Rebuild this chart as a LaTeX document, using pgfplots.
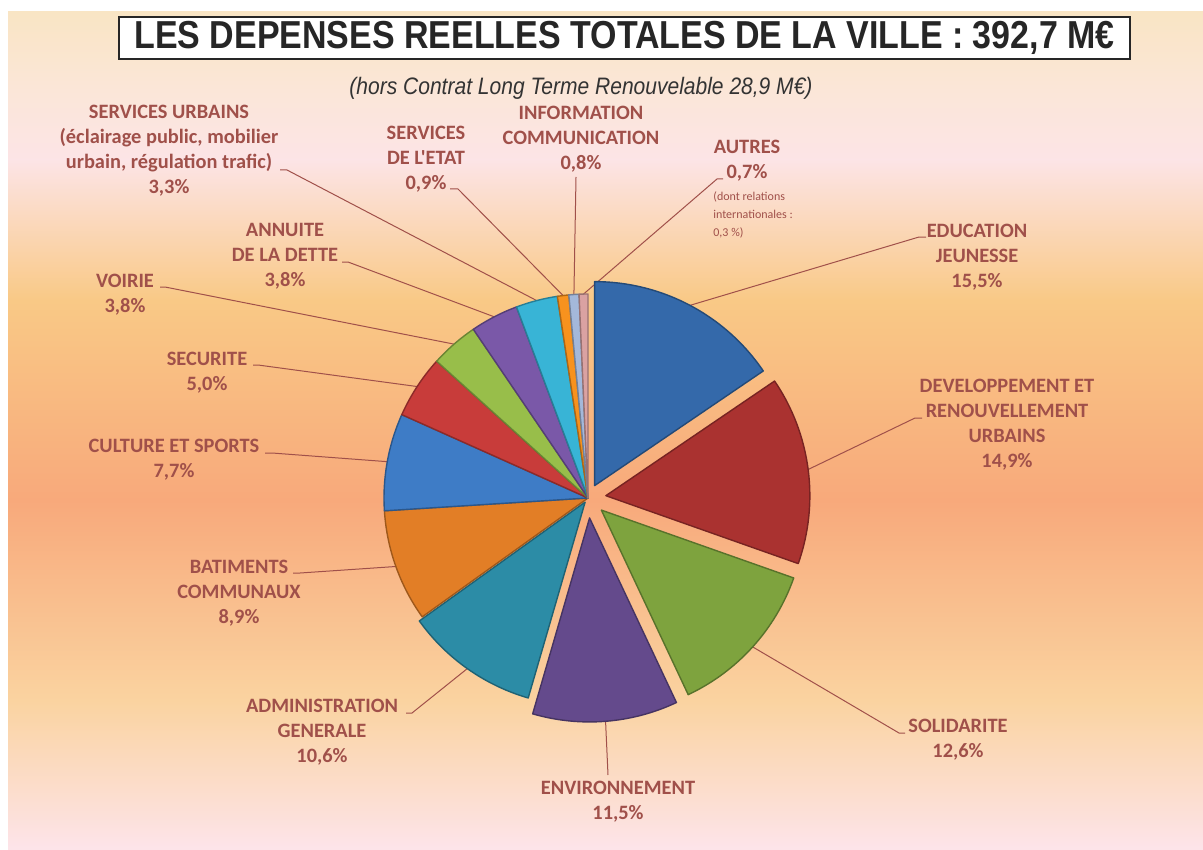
\documentclass[border=0pt]{standalone}
\usepackage{pgfplots}
\pgfplotsset{compat=1.18}
\usepackage{pgfplotstable}
\usepackage{graphicx}
\usepackage{fontspec}
\setmainfont{Carlito}
\newfontfamily\carlito{Carlito}
\newfontfamily\arialf{Liberation Sans}

\definecolor{sc0}{RGB}{52,105,170}
\definecolor{sc1}{RGB}{170,50,48}
\definecolor{sc2}{RGB}{126,163,62}
\definecolor{sc3}{RGB}{100,74,140}
\definecolor{sc4}{RGB}{44,140,166}
\definecolor{sc5}{RGB}{226,126,38}
\definecolor{sc6}{RGB}{62,124,198}
\definecolor{sc7}{RGB}{200,60,58}
\definecolor{sc8}{RGB}{152,190,74}
\definecolor{sc9}{RGB}{122,88,168}
\definecolor{sc10}{RGB}{56,180,214}
\definecolor{sc11}{RGB}{247,146,30}
\definecolor{sc12}{RGB}{164,184,218}
\definecolor{sc13}{RGB}{218,162,162}
\definecolor{labc}{RGB}{160,80,74}
\definecolor{bg0}{HTML}{F9E5C4}
\definecolor{bg1}{HTML}{FBE6D8}
\definecolor{bg2}{HTML}{FCE4E6}
\definecolor{bg3}{HTML}{F9C986}
\definecolor{bg4}{HTML}{F8A97B}
\definecolor{bg5}{HTML}{FAD3A0}
\definecolor{bg6}{HTML}{FDE4EA}

\tikzset{lab/.style={font=\carlito\bfseries\fontsize{10.2}{12.5}\selectfont, text=labc, align=center, inner sep=0pt}}

% value = share in %, off = explosion (px), lx ly = label end of leader, ex = elbow x
\pgfplotstableread{
idx value off lx ly ex
0 15.5 14 926 237 919
1 14.9 18 922 418 915
2 12.6 18 905 733 899
3 11.5 20 608 775 608
4 10.6 5 406 713 412
5 8.9 0 293 573 300
6 7.7 0 265 453 272
7 5.0 0 253 365 258
8 3.8 0 160 287 165
9 3.8 0 342 262 348
10 3.3 0 280 170 287
11 0.9 0 450 189 458
12 0.8 0 576 177 576
13 0.7 0 723 179 717
}\piedata

\begin{document}
\begin{tikzpicture}
\def\mycum{0}
\pgfplotsforeachungrouped \i in {0,...,13}{%
  \pgfplotstablegetelem{\i}{value}\of\piedata \let\myV\pgfplotsretval
  \pgfplotstablegetelem{\i}{off}\of\piedata \let\myO\pgfplotsretval
  \pgfplotstablegetelem{\i}{lx}\of\piedata \let\myLX\pgfplotsretval
  \pgfplotstablegetelem{\i}{ly}\of\piedata \let\myLY\pgfplotsretval
  \pgfplotstablegetelem{\i}{ex}\of\piedata \let\myEX\pgfplotsretval
  \pgfmathsetmacro\myA{90-3.6*\mycum}%
  \pgfmathsetmacro\myCumN{\mycum+\myV}%
  \pgfmathsetmacro\myB{90-3.6*\myCumN}%
  \pgfmathsetmacro\myM{(\myA+\myB)/2}%
  \pgfmathsetmacro\myCX{588+\myO*cos(\myM)}%
  \pgfmathsetmacro\myCY{498-\myO*sin(\myM)}%
  \pgfmathsetmacro\myPX{\myCX+204*cos(\myM)}%
  \pgfmathsetmacro\myPY{\myCY-204*sin(\myM)}%
  \expandafter\xdef\csname pA\i\endcsname{\myA}%
  \expandafter\xdef\csname pB\i\endcsname{\myB}%
  \expandafter\xdef\csname pCX\i\endcsname{\myCX}%
  \expandafter\xdef\csname pCY\i\endcsname{\myCY}%
  \expandafter\xdef\csname pPX\i\endcsname{\myPX}%
  \expandafter\xdef\csname pPY\i\endcsname{\myPY}%
  \expandafter\xdef\csname pLX\i\endcsname{\myLX}%
  \expandafter\xdef\csname pLY\i\endcsname{\myLY}%
  \expandafter\xdef\csname pEX\i\endcsname{\myEX}%
  \xdef\mycum{\myCumN}%
}
\begin{axis}[
  x=0.5pt, y=0.5pt,
  xmin=0, xmax=1203, ymin=0, ymax=850,
  y dir=reverse,
  hide axis, clip=false,
]
% background
\fill[white] (axis cs:0,0) rectangle (axis cs:1203,850);
\shade[top color=bg0, bottom color=bg1] (axis cs:8,12) rectangle (axis cs:1203,90.5);
\shade[top color=bg1, bottom color=bg2] (axis cs:8,90) rectangle (axis cs:1203,160.5);
\shade[top color=bg2, bottom color=bg3] (axis cs:8,160) rectangle (axis cs:1203,300.5);
\shade[top color=bg3, bottom color=bg4] (axis cs:8,300) rectangle (axis cs:1203,500.5);
\shade[top color=bg4, bottom color=bg5] (axis cs:8,500) rectangle (axis cs:1203,700.5);
\shade[top color=bg5, bottom color=bg6] (axis cs:8,700) rectangle (axis cs:1203,850);

% leader lines
\pgfplotsinvokeforeach{0,...,13}{
  \draw[labc, line width=0.5pt] (axis cs:\csname pLX#1\endcsname,\csname pLY#1\endcsname) -- (axis cs:\csname pEX#1\endcsname,\csname pLY#1\endcsname) -- (axis cs:\csname pPX#1\endcsname,\csname pPY#1\endcsname);
}
% slices
\pgfplotsinvokeforeach{0,...,13}{
  \fill[sc#1, draw=sc#1!70!black, line width=0.7pt, line join=round]
    (axis cs:\csname pCX#1\endcsname,\csname pCY#1\endcsname) -- ++(\csname pA#1\endcsname:102pt)
    arc[start angle=\csname pA#1\endcsname, end angle=\csname pB#1\endcsname, radius=102pt] -- cycle;
}

% title
\node[draw=black!85, line width=0.8pt, fill=white, minimum width=505.5pt, minimum height=21pt, inner sep=0pt]
  at (axis cs:624.5,38) {\resizebox{490pt}{\height}{\color{black!85}\arialf\bfseries\fontsize{19.5}{20}\selectfont LES DEPENSES REELLES TOTALES DE LA VILLE : 392,7 M€}};
\node[inner sep=0pt] at (axis cs:581,88) {\resizebox{231.5pt}{\height}{\color{black!80}\arialf\itshape\fontsize{11.9}{13}\selectfont (hors Contrat Long Terme Renouvelable 28,9 M€)}};

% labels
\node[lab] at (axis cs:977,257) {EDUCATION\\JEUNESSE\\15,5\%};
\node[lab] at (axis cs:1007,425) {DEVELOPPEMENT ET\\RENOUVELLEMENT\\URBAINS\\14,9\%};
\node[lab] at (axis cs:958,740) {SOLIDARITE\\12,6\%};
\node[lab] at (axis cs:618,802) {ENVIRONNEMENT\\11,5\%};
\node[lab] at (axis cs:322,732) {ADMINISTRATION\\GENERALE\\10,6\%};
\node[lab] at (axis cs:239,593) {BATIMENTS\\COMMUNAUX\\8,9\%};
\node[lab] at (axis cs:174,460) {CULTURE ET SPORTS\\7,7\%};
\node[lab] at (axis cs:207,373) {SECURITE\\5,0\%};
\node[lab] at (axis cs:125,295) {VOIRIE\\3,8\%};
\node[lab] at (axis cs:285,256) {ANNUITE\\DE LA DETTE\\3,8\%};
\node[lab] at (axis cs:169,151) {SERVICES URBAINS\\(éclairage public, mobilier\\urbain, régulation trafic)\\3,3\%};
\node[lab] at (axis cs:426,159) {SERVICES\\DE L'ETAT\\0,9\%};
\node[lab] at (axis cs:581,139) {INFORMATION\\COMMUNICATION\\0,8\%};
\node[lab] at (axis cs:747,160.5) {AUTRES\\0,7\%};
\node[anchor=west, align=left, inner sep=0pt, text=labc, font=\carlito\fontsize{6}{9}\selectfont] at (axis cs:713,214.5) {(dont relations\\internationales :\\0,3 \%)};
\end{axis}
\end{tikzpicture}
\end{document}
